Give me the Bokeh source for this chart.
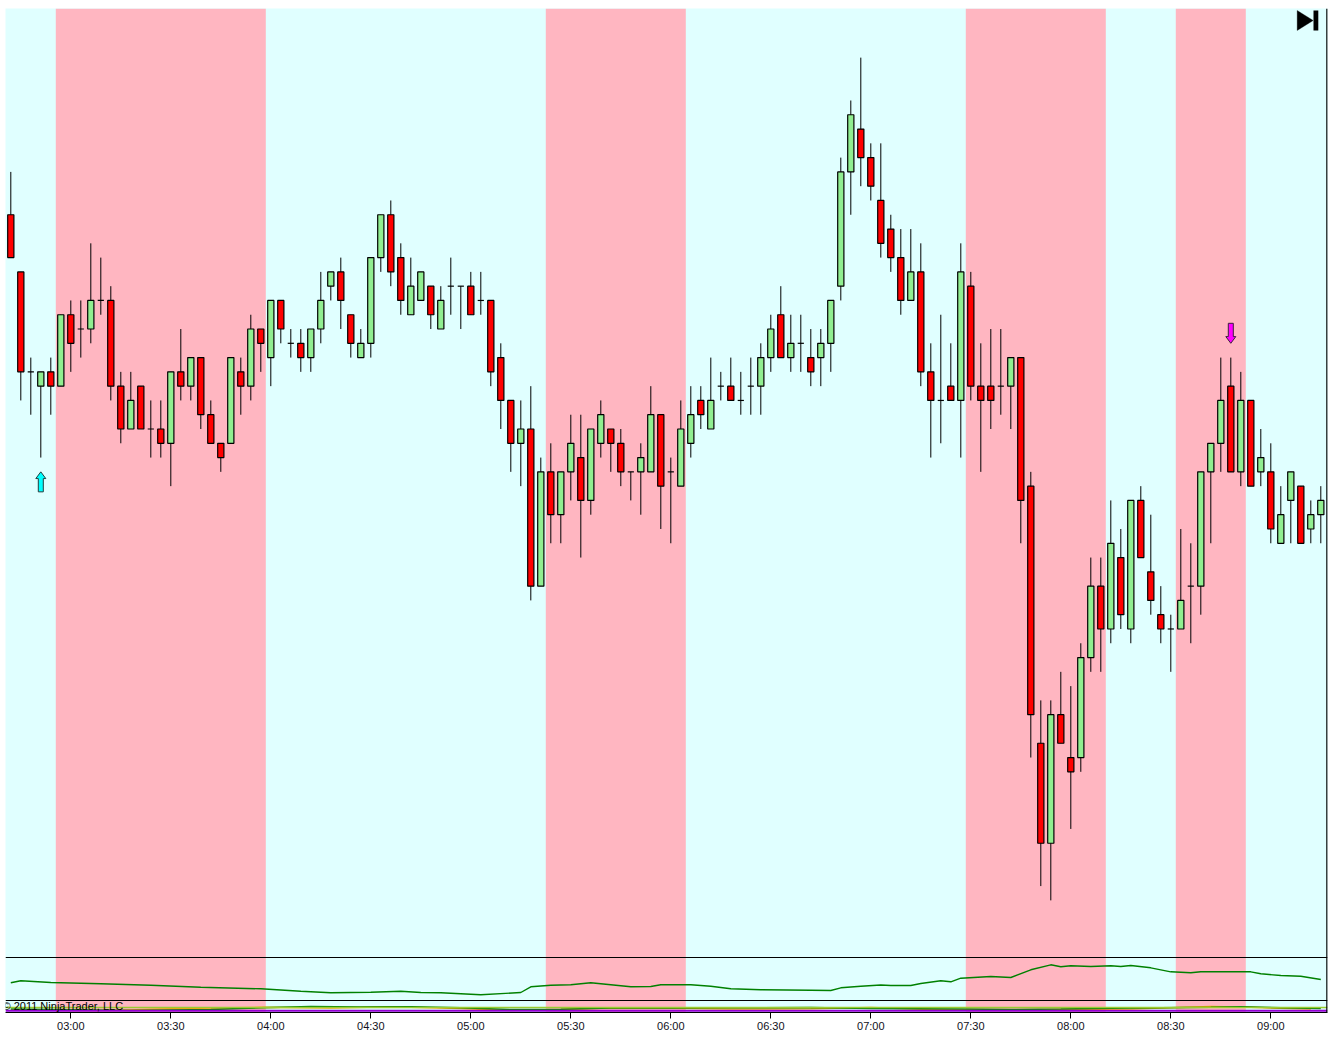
import pandas as pd
from bokeh.plotting import figure
from bokeh.models import (Range1d, FixedTicker, Span, BoxAnnotation, PolyAnnotation,
                          Label, ColumnDataSource)
from bokeh.embed import file_html
from bokeh.resources import INLINE

# ---------------- data (price in ticks, 3-minute bars) ----------------
bar_open = [48, 44, 37, 36, 37, 36, 41, 40, 40, 42, 42, 36, 33, 36, 33, 33, 32, 37, 36, 38,
            34, 32, 32, 37, 36, 40, 38, 42, 39, 39, 38, 40, 43, 44, 41, 38, 39, 45, 48, 45,
            41, 42, 43, 40, 43, 43, 43, 42, 42, 38, 35, 32, 33, 22, 30, 27, 30, 31, 28, 32,
            33, 32, 30, 30, 30, 34, 30, 29, 32, 35, 33, 36, 36, 35, 36, 36, 38, 41, 38, 39,
            38, 38, 39, 43, 51, 54, 52, 49, 47, 45, 42, 44, 37, 35, 36, 35, 43, 36, 36, 36,
            36, 38, 29, 11, 4, 13, 10, 10, 17, 22, 19, 24, 19, 28, 23, 20, 19, 19, 22, 22,
            30, 32, 36, 30, 35, 30, 30, 25, 28, 29, 26, 27]
bar_high = [51, 44, 38, 37, 38, 41, 42, 42, 46, 45, 43, 37, 37, 36, 35, 35, 37, 40, 38, 38,
            35, 32, 38, 38, 41, 40, 42, 42, 40, 40, 40, 44, 44, 45, 41, 40, 45, 48, 49, 46,
            45, 44, 43, 43, 45, 43, 44, 44, 42, 39, 35, 35, 36, 31, 32, 30, 34, 34, 33, 35,
            33, 33, 30, 32, 36, 34, 31, 35, 36, 36, 38, 37, 38, 37, 38, 39, 41, 43, 41, 41,
            40, 40, 42, 52, 56, 59, 53, 53, 48, 47, 47, 46, 39, 41, 39, 46, 44, 39, 40, 40,
            38, 38, 30, 14, 14, 16, 15, 18, 24, 24, 28, 26, 28, 29, 27, 22, 20, 26, 25, 30,
            32, 38, 38, 37, 35, 33, 32, 29, 30, 29, 28, 29]
bar_low = [45, 35, 34, 31, 34, 36, 37, 38, 39, 41, 35, 32, 33, 33, 31, 31, 29, 35, 35, 33,
           32, 30, 32, 34, 35, 37, 36, 39, 38, 37, 37, 39, 42, 40, 38, 38, 38, 44, 43, 41,
           41, 42, 40, 40, 41, 40, 41, 41, 36, 33, 30, 29, 21, 22, 25, 25, 28, 24, 27, 31,
           30, 29, 28, 27, 30, 26, 25, 29, 31, 33, 33, 35, 35, 34, 34, 34, 37, 38, 37, 37,
           36, 36, 37, 42, 48, 50, 49, 45, 44, 41, 42, 36, 31, 32, 35, 31, 35, 30, 33, 34,
           33, 25, 10, 1, 0, 11, 5, 9, 16, 16, 18, 19, 18, 24, 20, 18, 16, 19, 18, 20,
           25, 30, 30, 29, 29, 29, 25, 25, 25, 25, 25, 25]
bar_close = [45, 37, 37, 37, 36, 41, 39, 40, 42, 42, 36, 33, 35, 33, 33, 32, 37, 36, 38, 34,
             32, 31, 38, 36, 40, 39, 42, 40, 39, 38, 40, 42, 44, 42, 39, 39, 45, 48, 44, 42,
             43, 44, 41, 42, 43, 43, 41, 42, 37, 35, 32, 33, 22, 30, 27, 30, 32, 28, 33, 34,
             32, 30, 30, 31, 34, 29, 30, 33, 34, 34, 35, 36, 35, 35, 36, 38, 40, 38, 39, 39,
             37, 39, 42, 51, 55, 52, 50, 46, 45, 42, 44, 37, 35, 35, 35, 44, 36, 35, 35, 36,
             38, 28, 13, 4, 13, 11, 9, 17, 22, 19, 25, 20, 28, 24, 21, 19, 19, 21, 22, 30,
             32, 35, 30, 35, 29, 31, 26, 27, 30, 25, 27, 28]

bar_times = pd.date_range("2011-01-03 02:42", periods=len(bar_open), freq="3min").strftime("%H:%M").tolist()
tick_labels = ["03:00", "03:30", "04:00", "04:30", "05:00", "05:30", "06:00", "06:30",
               "07:00", "07:30", "08:00", "08:30", "09:00"]

# background state: runs of bars painted pink (inclusive bar indices)
pink_start = [5, 54, 96, 117]
pink_end = [25, 67, 109, 123]

# signal arrows
signal_up_bars = [3]
signal_down_bars = [122]

# indicator panel (green line), scale 0-100
ind_bars = [0, 1, 4, 9, 14, 19, 25, 29, 32, 36, 39, 41, 43, 47, 51, 52, 54, 56, 58, 60,
            62, 64, 65, 68, 70, 72, 75, 80, 82, 83, 85, 87, 88, 90, 91, 93, 94, 95, 98, 100,
            102, 104, 105, 106, 108, 110, 111, 112, 114, 116, 118, 119, 124, 125, 127, 129, 131]
ind_vals = [41.2, 45.8, 41.9, 38.8, 35.6, 30.9, 27.2, 21.6, 17.9, 19.3, 21.6, 18.6, 17.9, 13.3,
            18.6, 31.9, 35.6, 36.5, 41.2, 36.5, 31.9, 32.6, 36.5, 36.5, 33.3, 27.2, 24.9, 24.0,
            23.3, 29.5, 33.3, 36.0, 34.9, 34.9, 39.5, 45.8, 43.5, 51.9, 55.8, 53.5, 71.4, 83.0,
            78.4, 80.7, 79.1, 80.7, 79.1, 81.4, 76.0, 66.7, 64.4, 66.7, 66.7, 62.1, 58.1, 56.5, 48.8]

# bottom panel, scale 0-100
sub_green_bars = [0, 12, 20, 25, 30, 35, 40, 45, 50, 55, 60, 66, 70, 80, 86, 95, 100, 105,
                  110, 115, 120, 123, 127, 131]
sub_green_vals = [29, 17, 25, 39, 50, 46, 48, 39, 25, 28, 38, 38, 39, 42, 33, 29, 25, 29,
                  36, 39, 44, 48, 39, 33]
sub_orange_bars = [0, 10, 15, 20, 25, 32, 38, 45, 50, 55, 60, 66, 72, 80, 86, 92, 100, 105,
                   112, 120, 124, 130]
sub_orange_vals = [21, 17, 29, 38, 43, 38, 48, 33, 17, 25, 38, 35, 29, 31, 42, 25, 18, 25,
                   29, 50, 43, 29]
sub_lightgreen_level = 42
sub_purple_level = 14

# ---------------- layout constants ----------------
PANEL_PX = [949, 43, 12]          # main, indicator, bottom panel heights (relative)
TOTAL = float(sum(PANEL_PX))
PAD_BOTTOM, PAD_TOP = 4.0, 3.44   # price padding in ticks
BODY_W = 0.62


def panel_range(vmin, vmax, lo, hi):
    span = (vmax - vmin) / (hi - lo)
    start = vmin - lo * span
    return Range1d(start, start + span)


f_sub_top = PANEL_PX[2] / TOTAL
f_ind_top = (PANEL_PX[2] + PANEL_PX[1]) / TOTAL

n = len(bar_open)
x_range = Range1d(-0.53, n - 1 + 0.67)
main_lo = min(bar_low) - PAD_BOTTOM
main_hi = max(bar_high) + PAD_TOP
y_main = panel_range(main_lo, main_hi, f_ind_top, 1.0)

p = figure(width=1328, height=1039, x_range=x_range, y_range=y_main,
           output_backend="svg", toolbar_location=None, y_axis_location=None,
           min_border=0, min_border_left=5, min_border_right=1, min_border_top=8,
           min_border_bottom=27, background_fill_color="#E0FFFF",
           border_fill_color="white", outline_line_color=None)
p.extra_y_ranges = {"ind": panel_range(0, 100, f_sub_top, f_ind_top),
                    "sub": panel_range(0, 100, 0.0, f_sub_top)}
p.grid.visible = False

# background bands
for s, e in zip(pink_start, pink_end):
    p.add_layout(BoxAnnotation(left=s - 0.5, right=e + 0.5, fill_color="#FFB6C1",
                               fill_alpha=1.0, line_color=None, level="underlay"))

# candles
xs = list(range(n))
body_top = [max(o, c) for o, c in zip(bar_open, bar_close)]
body_bot = [min(o, c) for o, c in zip(bar_open, bar_close)]
colors = ["#90EE90" if c > o else "#FF0000" for o, c in zip(bar_open, bar_close)]
src = ColumnDataSource(dict(x=xs, o=bar_open, h=bar_high, l=bar_low, c=bar_close,
                            t=bar_times, top=body_top, bot=body_bot, col=colors))
p.segment(x0="x", y0="l", x1="x", y1="h", source=src, line_color="black", line_width=1)

body_idx = [i for i in xs if bar_open[i] != bar_close[i]]
bsrc = ColumnDataSource(dict(x=[xs[i] for i in body_idx], top=[body_top[i] for i in body_idx],
                             bot=[body_bot[i] for i in body_idx], col=[colors[i] for i in body_idx]))
p.vbar(x="x", width=BODY_W, top="top", bottom="bot", source=bsrc, fill_color="col",
       line_color="black", line_width=1.2)

doji_idx = [i for i in xs if bar_open[i] == bar_close[i]]
p.segment(x0=[i - BODY_W / 2 for i in doji_idx], x1=[i + BODY_W / 2 for i in doji_idx],
          y0=[bar_open[i] for i in doji_idx], y1=[bar_open[i] for i in doji_idx],
          line_color="black", line_width=1.2)

# signal arrows
AR_OFF, AR_LEN, AR_HEAD, AR_HW, AR_SW = 1.0, 1.4, 0.47, 0.5, 0.25


def arrow(b, tip, d):
    hb = tip - d * AR_HEAD
    base = tip - d * AR_LEN
    return ([b, b + AR_HW, b + AR_SW, b + AR_SW, b - AR_SW, b - AR_SW, b - AR_HW],
            [tip, hb, hb, base, base, hb, hb])


up = [arrow(b, bar_low[b] - AR_OFF, 1) for b in signal_up_bars]
dn = [arrow(b, bar_high[b] + AR_OFF, -1) for b in signal_down_bars]
p.patches(xs=[a[0] for a in up], ys=[a[1] for a in up], fill_color="#00FFFF",
          line_color="#1F3F3F", line_width=1)
p.patches(xs=[a[0] for a in dn], ys=[a[1] for a in dn], fill_color="#FF00FF",
          line_color="#3F1F3F", line_width=1)

# indicator panel
p.line(ind_bars, ind_vals, y_range_name="ind", line_color="#008000", line_width=1.4)

# bottom panel
p.add_layout(Span(location=sub_lightgreen_level, dimension="width", y_range_name="sub",
                  line_color="#9ACD32", line_width=1.5))
p.line(sub_orange_bars, sub_orange_vals, y_range_name="sub", line_color="#FFA500", line_width=1.5)
p.line(sub_green_bars, sub_green_vals, y_range_name="sub", line_color="#008000", line_width=1.5)
p.add_layout(Span(location=sub_purple_level, dimension="width", y_range_name="sub",
                  line_color="#9400D3", line_width=2))

# panel separators and right border
p.add_layout(Span(location=main_lo, dimension="width", line_color="black", line_width=1))
p.add_layout(Span(location=0, dimension="width", y_range_name="ind", line_color="black",
                  line_width=1))
p.add_layout(Span(location=x_range.end - 0.05, dimension="height", line_color="black",
                  line_width=1.5))

# "go to end" icon
ix0, ix1 = x_range.end - 3.03, x_range.end - 1.43
iy0, iy1 = main_hi - 0.14, main_hi - 1.54
p.add_layout(PolyAnnotation(xs=[ix0, ix0, ix1], ys=[iy0, iy1, (iy0 + iy1) / 2],
                            fill_color="black", fill_alpha=1, line_color="black"))
p.add_layout(BoxAnnotation(left=x_range.end - 1.40, right=x_range.end - 0.92,
                           top=iy0, bottom=iy1, fill_color="black", fill_alpha=1,
                           line_color=None))

# copyright
p.add_layout(Label(x=x_range.start, y=58, y_range_name="sub", text="© 2011 NinjaTrader, LLC",
                   text_font="Liberation Sans", text_font_size="11px", text_color="black",
                   text_baseline="middle", x_offset=-3))

# x axis
tick_pos = [bar_times.index(t) for t in tick_labels]
p.xaxis.ticker = FixedTicker(ticks=tick_pos)
p.xaxis.major_label_overrides = {tp: t for tp, t in zip(tick_pos, tick_labels)}
p.xaxis.axis_line_color = "black"
p.xaxis.major_tick_line_color = "black"
p.xaxis.major_tick_in = 0
p.xaxis.major_tick_out = 6
p.xaxis.minor_tick_line_color = None
p.xaxis.major_label_standoff = 1
p.xaxis.major_label_text_font = "Liberation Sans"
p.xaxis.major_label_text_font_size = "11px"
p.xaxis.major_label_text_color = "#101020"

open("out.html", "w").write(file_html(p, INLINE))
